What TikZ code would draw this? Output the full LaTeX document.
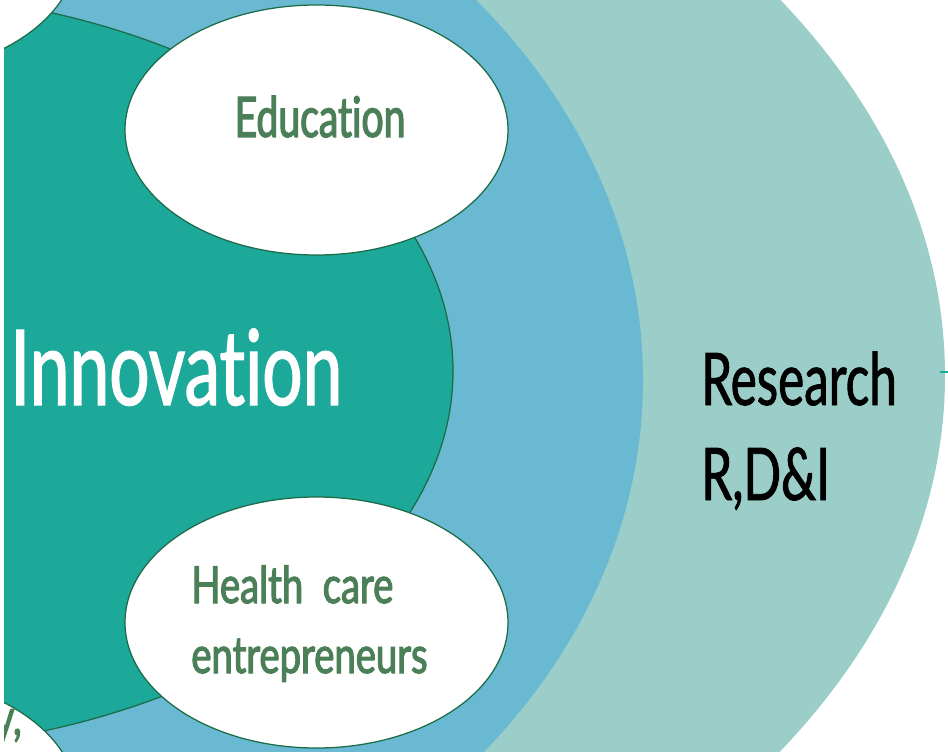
\documentclass[tikz,border=0pt]{standalone}
\usepackage{fontspec}
\newfontfamily\gillfont[FakeStretch=0.68, FakeBold=1.2, Ligatures=NoCommon]{Lato}
\newfontfamily\gillbold[FakeStretch=0.70, FakeBold=2.2, Ligatures=NoCommon]{Lato}
\newfontfamily\gillwide[FakeStretch=0.75, FakeBold=2.2, Ligatures=NoCommon]{Lato}
\usetikzlibrary{positioning}
\definecolor{outerring}{RGB}{155,206,200}
\definecolor{midring}{RGB}{106,185,211}
\definecolor{innerteal}{RGB}{29,169,153}
\definecolor{edgegreen}{RGB}{27,107,71}
\definecolor{labelgreen}{RGB}{75,127,87}
\tikzset{
  bubble/.style={fill=white, draw=edgegreen, line width=0.25mm},
  bubbletext/.style={text=labelgreen, inner sep=0pt}
}

\begin{document}
\begin{tikzpicture}[x=0.2mm, y=0.2mm]
\useasboundingbox (0,0) rectangle (948,751);

\begin{scope}
    \clip (4,0) rectangle (948,751);
    % Rings
    \fill[outerring] (-150,375.5) ellipse (1095 and 712);
    \fill[midring] (-150,371) ellipse (793 and 619);
    \filldraw[fill=innerteal, draw=edgegreen, line width=0.25mm] (-150,380) ellipse (603 and 380);

    % Bubbles round the core
    \draw[bubble] (316.5,621) ellipse (191.5 and 125);
    \draw[bubble] (316.5,128.5) ellipse (191.5 and 125.5);
    \draw[bubble] (-114,801) ellipse (191.5 and 125);
    \draw[bubble] (-114,-50) ellipse (191.5 and 125);

    % Labels
    \node[font=\gillfont\fontsize{59.6}{60}\selectfont, text=white, inner sep=0pt, anchor=base west] (innov) at (10,346) {Innovation};
    \node[bubbletext, font=\gillbold\fontsize{31.8}{34}\selectfont, anchor=base] (educ) at (320,614) {Education};
    \node[bubbletext, font=\gillwide\fontsize{29}{30}\selectfont, anchor=base west] (health) at (191,148) {Health\ \ care};
    \node[bubbletext, font=\gillwide\fontsize{29}{30}\selectfont, anchor=base west] (entre) at (191,78) {entrepreneurs};
    \node[bubbletext, font=\gillwide\fontsize{29}{30}\selectfont, anchor=base east] (indus) at (22,16) {y,};
\end{scope}

\node[font=\gillfont\fontsize{41.3}{43}\selectfont, inner sep=0pt, anchor=base west] (research) at (701,346) {Research};
\node[font=\gillfont\fontsize{41.3}{43}\selectfont, inner sep=0pt, anchor=base west] (rdi) at (701,251) {R,D\&I};

% stub at the right edge
\draw[innerteal, line width=0.4mm] (940,379) -- (948,379);

\end{tikzpicture}
\end{document}
